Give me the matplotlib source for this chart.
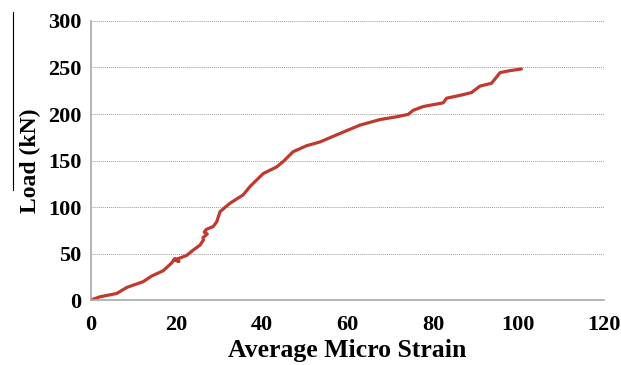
import matplotlib.pyplot as plt
from matplotlib.lines import Line2D

# load vs average micro strain readings
strain = [0, 2.1, 6.0, 8.4, 12.2, 14.2, 16.9, 18.9, 19.6, 20.6, 19.4, 21.0,
          22.4, 24.0, 25.5, 26.3, 26.2, 27.2, 26.5, 27.0, 28.6, 29.4, 30.2,
          32.5, 35.6, 37.2, 40.3, 43.4, 45.0, 47.3, 50.5, 53.6, 58.2, 62.9,
          67.6, 71.5, 74.2, 75.4, 77.7, 82.4, 83.2, 86.3, 89.0, 91.0, 93.7,
          95.7, 98.0, 100.7]
load = [0, 3.5, 7.0, 13.6, 19.7, 25.8, 31.5, 40.0, 44.5, 41.5, 43.0, 45.5,
        48.0, 54.0, 59.0, 64.5, 67.0, 71.0, 73.0, 76.0, 79.0, 84.0, 95.0,
        104.0, 113.0, 122.0, 136.0, 143.0, 149.0, 159.5, 166.0, 170.0, 179.0,
        188.0, 194.0, 197.0, 199.6, 204.0, 208.0, 212.0, 217.0, 220.0, 223.0,
        230.0, 233.0, 244.5, 246.6, 248.4]

xticks = [0, 20, 40, 60, 80, 100, 120]
yticks = [0, 50, 100, 150, 200, 250, 300]

plt.rcParams['font.family'] = 'Liberation Serif'

fig = plt.figure(figsize=(6.21, 3.65), dpi=100)
ax = fig.add_axes([0.1465, 0.178, 0.826, 0.7645])

ax.plot(strain, load, color='#c0392f', linewidth=2.3,
        solid_joinstyle='round', solid_capstyle='round')

ax.set_xlim(0, 120)
ax.set_ylim(0, 300)
ax.set_xticks(xticks)
ax.set_yticks(yticks)
ax.tick_params(length=0, labelsize=16)
ax.tick_params(axis='x', pad=11)
ax.tick_params(axis='y', pad=7)
for lbl in ax.get_xticklabels() + ax.get_yticklabels():
    lbl.set_fontweight('bold')

ax.yaxis.grid(True, linestyle=(0, (1, 1)), color='#9a9a9a', linewidth=0.7)
ax.set_axisbelow(True)
for side in ['top', 'right']:
    ax.spines[side].set_visible(False)
for side in ['left', 'bottom']:
    ax.spines[side].set_color('#a8a8a8')
    ax.spines[side].set_linewidth(1.2)

ax.set_xlabel('Average Micro Strain', fontsize=18.5, fontweight='bold', labelpad=3)
ax.set_ylabel('Load (kN)', fontsize=17, fontweight='bold', labelpad=5)

# thin rule beside the y label
fig.add_artist(Line2D([13 / 621, 13 / 621], [1 - 12 / 365, 1 - 190 / 365],
                      color='black', linewidth=0.8))

fig.savefig('out.png', dpi=100)
